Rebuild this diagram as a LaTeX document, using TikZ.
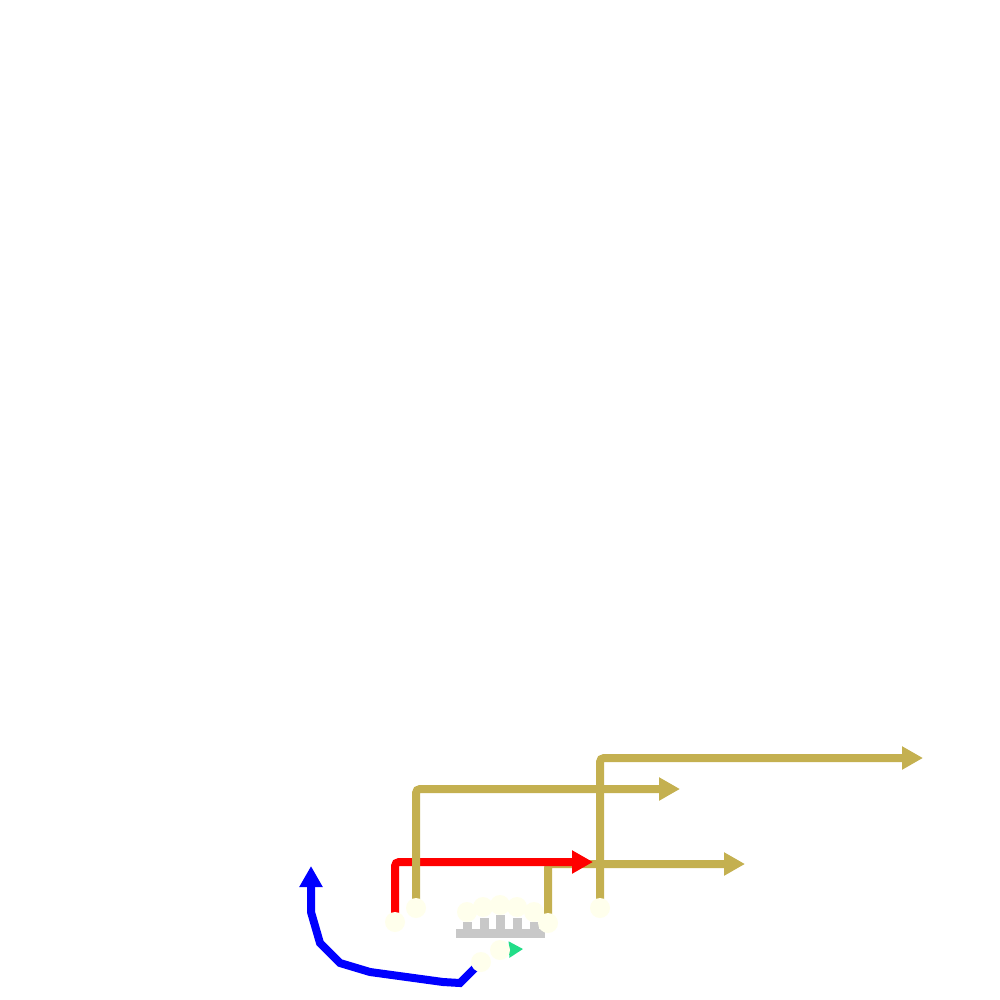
\documentclass[tikz,border=0pt]{standalone}
\usepackage{tikz}
\usetikzlibrary{arrows.meta}
\definecolor{wire}{RGB}{196,176,80}
\definecolor{pad}{RGB}{255,255,236}
\definecolor{comb}{RGB}{200,200,200}
\definecolor{sprout}{RGB}{34,221,136}
\pgfdeclarelayer{back}
\pgfsetlayers{back,main}

\begin{document}
\begin{tikzpicture}[x=1pt,y=-1pt,
		dot/.style={circle, fill=pad, minimum size=20pt, inner sep=0pt},
		lead/.style={line width=8pt, rounded corners=4pt, -{Triangle[length=21pt,width=22pt]}}
		]
		\useasboundingbox (0,0) rectangle (1000,1000);
		
		% pads
		\node[dot] (r0) at (395,922) {};
		\node[dot] (g1) at (416,908) {};
		\node[dot] (g2) at (600,908) {};
		\node[dot] (g3) at (548,923) {};
		\node[dot] (gn) at (500,950) {};
		\node[dot] (b0) at (481,962) {};
		\foreach \x/\y [count=\i] in {467/912, 483/907, 500/905, 517/907, 534/912}
			\node[dot] (a\i) at (\x,\y) {};
		
		\coordinate (rtip) at (593,862);
		\coordinate (g1tip) at (680,789);
		\coordinate (g2tip) at (923,758);
		\coordinate (g3tip) at (745,864);
		\coordinate (btip) at (311,866);
		\coordinate (gtip) at (523,949);
		
		\begin{pgfonlayer}{back}
			\fill[white] (0,0) rectangle (1000,1000);
			% comb
			\fill[comb] (456,929) rectangle (545,938);
			\foreach \x/\t in {467/922, 484/918, 500/915, 517/918, 534/922}
				\fill[comb] (\x-4.5,\t) rectangle (\x+4.5,930);
			
			\draw[lead, wire] (g3.center) |- (g3tip);
			\draw[lead, red] (r0.center) |- (rtip);
			\draw[lead, wire] (g1.center) |- (g1tip);
			\draw[lead, wire] (g2.center) |- (g2tip);
			
			\draw[line width=8pt, blue, -{Triangle[length=21pt,width=22pt]}] (b0.center) -- (460,983) -- (443,982) -- (370,972) -- (340,963) -- (320,943) -- (311,912) -- (btip);
			\draw[line width=2pt, sprout, -{Triangle[length=14pt,width=16pt]}] (gn.center) -- (gtip);
		\end{pgfonlayer}
	\end{tikzpicture}
\end{document}
